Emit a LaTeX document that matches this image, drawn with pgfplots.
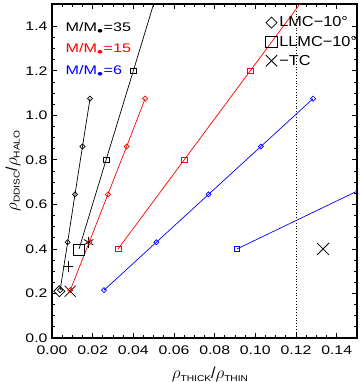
\documentclass[border=0pt]{standalone}
\usepackage{fontspec}
\setmainfont{Liberation Sans}
\usepackage{graphicx}
\usepackage{pgfplots}
\pgfplotsset{compat=1.18}
\newcommand{\wide}[2][1.25]{\scalebox{#1}[1]{#2}}
\newcommand{\rhosub}[1]{$\rho$\raisebox{-0.3ex}{\fontsize{8.5}{9}\selectfont\wide[1.2]{#1}}}
\begin{document}
\begin{tikzpicture}
\useasboundingbox (-52bp,-44bp) rectangle (308bp,338bp);
\begin{axis}[
  at={(0,0)}, anchor=south west,
  scale only axis, width=305bp, height=334bp,
  xmin=0, xmax=0.15, ymin=0, ymax=1.5,
  xtick={0,0.02,0.04,0.06,0.08,0.10,0.12,0.14},
  ytick={0,0.2,0.4,0.6,0.8,1.0,1.2,1.4},
  minor x tick num=3, minor y tick num=3,
  tick align=inside,
  major tick length=5bp, minor tick length=3bp,
  every tick/.style={black, line width=0.8pt},
  axis line style={line width=1.1pt},
  /pgf/number format/assume math mode=true,
  xticklabel={\wide[1.27]{\pgfmathprintnumber[fixed,fixed zerofill,precision=2]{\tick}}},
  yticklabel={\wide[1.27]{\pgfmathprintnumber[fixed,fixed zerofill,precision=1]{\tick}}},
  xticklabel style={yshift=-4bp},
  yticklabel style={xshift=-1bp},
  tick label style={font=\fontsize{12.5}{14}\selectfont},
  xlabel={\fontsize{16}{16}\selectfont\rhosub{THICK}/\rhosub{THIN}},
  ylabel={\fontsize{16}{16}\selectfont\rhosub{DDISC}/\rhosub{HALO}},
  xlabel style={at={(axis description cs:0.518,-0.11)}, anchor=center},
  ylabel style={at={(axis description cs:-0.128,0.5)}, anchor=center},
  legend image code/.code={\draw[#1] plot coordinates {(0cm,0cm)};},
  legend style={at={(rel axis cs:0.70,0.968)}, anchor=north west, draw=none, fill=none,
    inner sep=0pt, font=\fontsize{14.5}{16}\selectfont, row sep=3.5bp,
    /tikz/every even column/.append style={column sep=0pt}},
  legend cell align=left,
]
% dotted reference line
\addplot[black, dotted, line width=0.8pt, forget plot] coordinates {(0.12,0) (0.12,1.5)};
% big observational markers
\addplot[black, only marks, mark=square, mark size=3.9bp, mark options={rotate=45, line width=0.8pt}, forget plot] coordinates {(0.0036,0.21)};
\addplot[black, only marks, mark=square, mark size=5.8bp, mark options={line width=0.8pt}, forget plot] coordinates {(0.0133,0.395)};
\addplot[black, only marks, mark=x, mark size=7.8bp, mark options={line width=0.8pt}, forget plot] coordinates {(0.0089,0.21)};
\addplot[black, only marks, mark=+, mark size=5.3bp, mark options={line width=0.8pt}, forget plot] coordinates {(0.0079,0.32)};
\addplot[black, only marks, mark=asterisk, mark size=5.5bp, mark options={line width=0.8pt}, forget plot] coordinates {(0.018,0.43)};
\addplot[black, only marks, mark=x, mark size=8.5bp, mark options={line width=0.8pt}, forget plot] coordinates {(0.1333,0.40)};
% M/M=35 (black)
\addplot[black, line width=0.7pt, mark=square, mark size=1.8bp, mark options={rotate=45}, forget plot] coordinates {(0.004,0.215) (0.0077,0.43) (0.0113,0.645) (0.0150,0.86) (0.0187,1.075)};
\addplot[black, line width=0.7pt, mark=square, mark size=2.8bp, mark indices={2,3}, forget plot] coordinates {(0.0133,0.40) (0.0266,0.80) (0.0400,1.20) (0.0533,1.60)};
% M/M=15 (red)
\addplot[red, line width=0.7pt, mark=square, mark size=1.8bp, mark options={rotate=45}, forget plot] coordinates {(0.009,0.215) (0.0183,0.43) (0.0275,0.645) (0.0367,0.86) (0.0458,1.075)};
\addplot[red, line width=0.7pt, mark=square, mark size=2.8bp, mark indices={1,2,3}, forget plot] coordinates {(0.0325,0.40) (0.0650,0.80) (0.0975,1.20) (0.1300,1.60)};
% M/M=6 (blue)
\addplot[blue, line width=0.7pt, mark=square, mark size=1.8bp, mark options={rotate=45}, forget plot] coordinates {(0.0256,0.215) (0.0513,0.43) (0.0770,0.645) (0.1027,0.86) (0.1284,1.075)};
\addplot[blue, line width=0.7pt, mark=square, mark size=2.8bp, mark indices={1}, forget plot] coordinates {(0.091,0.40) (0.182,0.80)};
% legend
\addlegendimage{black, only marks, mark=square, mark size=3.9bp, mark options={rotate=45, line width=0.8pt}}
\addlegendentry{\wide[1.13]{LMC−10°}}
\addlegendimage{black, only marks, mark=square, mark size=5.8bp, mark options={line width=0.8pt}}
\addlegendentry{\wide[1.13]{LLMC−10°}}
\addlegendimage{black, only marks, mark=x, mark size=8bp, mark options={line width=0.8pt}}
\addlegendentry{\wide[1.13]{−TC}}
% text labels
\node[anchor=base west, font=\fontsize{12.5}{15}\selectfont, black] at (rel axis cs:0.033,0.918) {\wide[1.3]{M/M$_\bullet$=35}};
\node[anchor=base west, font=\fontsize{12.5}{15}\selectfont, red] at (rel axis cs:0.033,0.855) {\wide[1.3]{M/M$_\bullet$=15}};
\node[anchor=base west, font=\fontsize{12.5}{15}\selectfont, blue] at (rel axis cs:0.033,0.789) {\wide[1.3]{M/M$_\bullet$=6}};
\end{axis}
\end{tikzpicture}
\end{document}
